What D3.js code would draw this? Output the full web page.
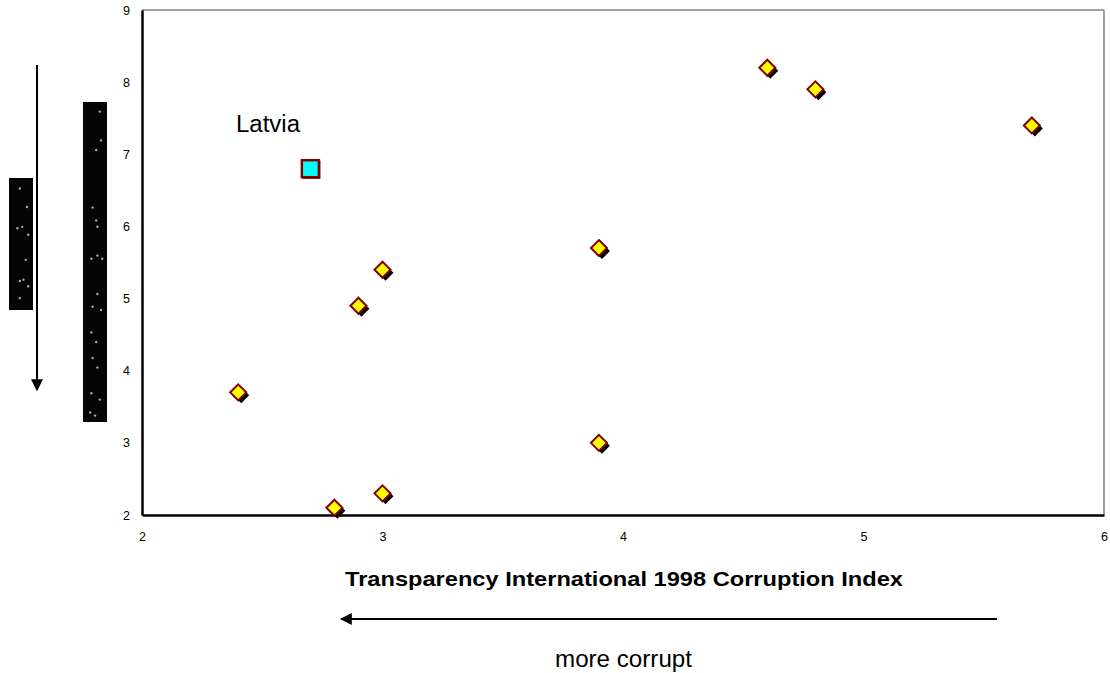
<!DOCTYPE html>
<html>
<head>
<meta charset="utf-8">
<script src="https://cdn.jsdelivr.net/npm/d3@7"></script>
<style>
  body { margin: 0; background: #fff; }
  svg { display: block; font-family: Arial, "Liberation Sans", sans-serif; }
</style>
</head>
<body>
<div id="chart"></div>
<script>
// corruption index (x) vs the other score (y)
const countryX = [4.6, 4.8, 5.7, 3.9, 3.0, 2.9, 2.4, 3.9, 3.0, 2.8];
const countryY = [8.2, 7.9, 7.4, 5.7, 5.4, 4.9, 3.7, 3.0, 2.3, 2.1];
const latvia = { name: "Latvia", x: 2.7, y: 6.8 };
const xTicks = [2, 3, 4, 5, 6];
const yTicks = [2, 3, 4, 5, 6, 7, 8, 9];

// faint specks in the two dark strips (fractions of strip width / height)
const speckStripA = [[0.45, 0.08], [0.75, 0.22], [0.35, 0.38], [0.55, 0.37], [0.8, 0.43], [0.7, 0.62], [0.45, 0.78], [0.6, 0.77], [0.8, 0.82], [0.45, 0.91]];
const speckStripB = [[0.7, 0.03], [0.75, 0.12], [0.55, 0.15], [0.4, 0.33], [0.55, 0.37], [0.6, 0.39], [0.35, 0.49], [0.6, 0.48], [0.8, 0.49], [0.6, 0.6], [0.4, 0.64], [0.75, 0.65], [0.35, 0.72], [0.55, 0.75], [0.4, 0.8], [0.6, 0.83], [0.35, 0.91], [0.7, 0.93], [0.3, 0.97], [0.5, 0.98]];

const width = 1110;
const height = 673;
const plot = { left: 142, right: 1104, top: 10, bottom: 515 };

const svg = d3.select("#chart")
  .append("svg")
  .attr("width", width)
  .attr("height", height);

const x = d3.scaleLinear().domain([2, 6]).range([plot.left, plot.right]);
const y = d3.scaleLinear().domain([2, 9]).range([plot.bottom, plot.top]);

// plot frame: gray top/right, black left/bottom
svg.append("line")
  .attr("x1", plot.left).attr("x2", plot.right)
  .attr("y1", plot.top).attr("y2", plot.top)
  .attr("stroke", "#808080").attr("stroke-width", 1.5);
svg.append("line")
  .attr("x1", plot.right).attr("x2", plot.right)
  .attr("y1", plot.top).attr("y2", plot.bottom)
  .attr("stroke", "#808080").attr("stroke-width", 1.5);

const xAxis = svg.append("g")
  .attr("transform", `translate(0,${plot.bottom})`)
  .call(d3.axisBottom(x).tickValues(xTicks).tickSize(0).tickPadding(17).tickFormat(d3.format("d")));
const yAxis = svg.append("g")
  .attr("transform", `translate(${plot.left},0)`)
  .call(d3.axisLeft(y).tickValues(yTicks).tickSize(0).tickPadding(12).tickFormat(d3.format("d")));

[xAxis, yAxis].forEach((axis) => {
  axis.select(".domain").attr("stroke", "#000").attr("stroke-width", 2.5);
  axis.selectAll("text")
    .attr("font-family", "Arial, 'Liberation Sans', sans-serif")
    .attr("font-size", 12.5)
    .attr("fill", "#000");
});

// markers
const points = countryX.map((v, i) => ({ x: v, y: countryY[i] }));
const diamond = "M 0,-8 L 8,0 L 0,8 L -8,0 Z";

const marks = svg.append("g")
  .selectAll("g")
  .data(points)
  .join("g")
  .attr("transform", (d) => `translate(${x(d.x)},${y(d.y)})`);

marks.append("path")
  .attr("d", diamond)
  .attr("transform", "translate(3,3)")
  .attr("fill", "#000");
marks.append("path")
  .attr("d", diamond)
  .attr("fill", "#ffff00")
  .attr("stroke", "#800000")
  .attr("stroke-width", 2);

const lat = svg.append("g")
  .attr("transform", `translate(${x(latvia.x)},${y(latvia.y)})`);
lat.append("rect")
  .attr("x", -8).attr("y", -8).attr("width", 18).attr("height", 18)
  .attr("fill", "#000");
lat.append("rect")
  .attr("x", -8.5).attr("y", -8.5).attr("width", 17).attr("height", 17)
  .attr("fill", "#00ffff")
  .attr("stroke", "#800000")
  .attr("stroke-width", 2.5);

svg.append("text")
  .attr("x", 236).attr("y", 132)
  .attr("font-size", 23.5)
  .attr("textLength", 64)
  .attr("lengthAdjust", "spacingAndGlyphs")
  .text(latvia.name);

// axis title and direction arrows
svg.append("text")
  .attr("x", 345).attr("y", 586)
  .attr("font-size", 21)
  .attr("font-weight", "bold")
  .attr("textLength", 558)
  .attr("lengthAdjust", "spacingAndGlyphs")
  .text("Transparency International 1998 Corruption Index");

const defs = svg.append("defs");
defs.append("marker")
  .attr("id", "head")
  .attr("viewBox", "0 0 10 10")
  .attr("refX", 9).attr("refY", 5)
  .attr("markerWidth", 6).attr("markerHeight", 6)
  .attr("markerUnits", "strokeWidth")
  .attr("orient", "auto")
  .append("path")
  .attr("d", "M 0,0 L 10,5 L 0,10 Z")
  .attr("fill", "#000");

svg.append("line")
  .attr("x1", 997).attr("x2", 341)
  .attr("y1", 619).attr("y2", 619)
  .attr("stroke", "#000").attr("stroke-width", 2)
  .attr("marker-end", "url(#head)");

svg.append("text")
  .attr("x", 555).attr("y", 667)
  .attr("font-size", 23.5)
  .attr("textLength", 137)
  .attr("lengthAdjust", "spacingAndGlyphs")
  .text("more corrupt");

svg.append("line")
  .attr("x1", 37).attr("x2", 37)
  .attr("y1", 65).attr("y2", 390)
  .attr("stroke", "#000").attr("stroke-width", 2)
  .attr("marker-end", "url(#head)");

// dark strips on the left
const strips = [
  { x: 9, y: 178, w: 24, h: 132, specks: speckStripA },
  { x: 83, y: 102, w: 24, h: 320, specks: speckStripB }
];

strips.forEach((s) => {
  svg.append("rect")
    .attr("x", s.x).attr("y", s.y).attr("width", s.w).attr("height", s.h)
    .attr("fill", "#050505");
  svg.append("g")
    .selectAll("circle")
    .data(s.specks)
    .join("circle")
    .attr("cx", (d) => s.x + d[0] * s.w)
    .attr("cy", (d) => s.y + d[1] * s.h)
    .attr("r", 1.2)
    .attr("fill", "#aaa");
});
</script>
</body>
</html>
